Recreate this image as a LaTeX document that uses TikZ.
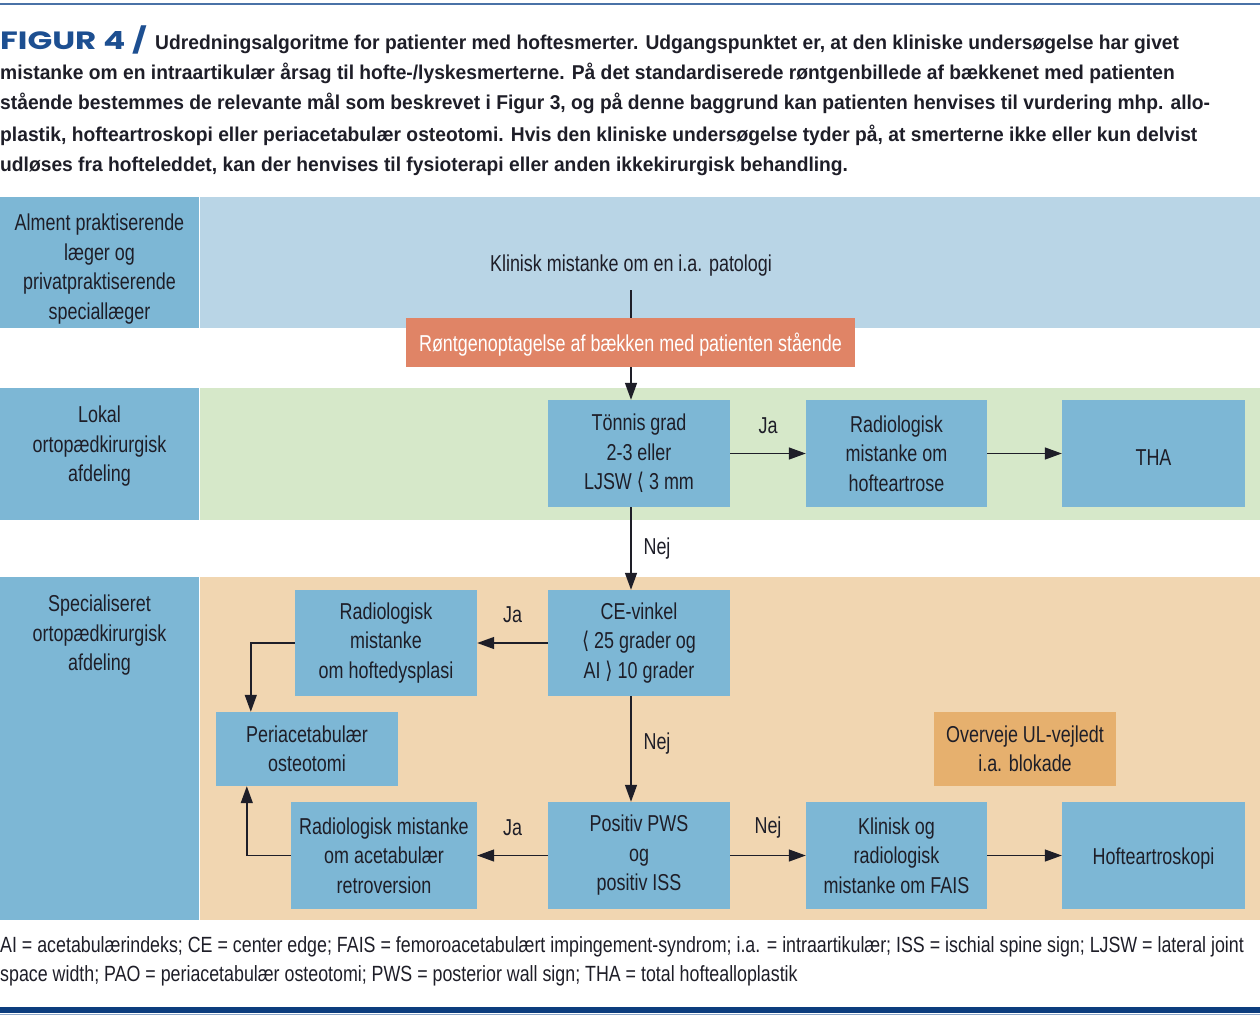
\documentclass[tikz,border=0pt]{standalone}
\usepackage{fontspec}
\usetikzlibrary{arrows.meta,calc}
\newfontfamily\condf[FakeStretch=0.78]{Liberation Sans}
\newfontfamily\footf[FakeStretch=0.81]{Liberation Sans}
\newfontfamily\capf[FakeStretch=0.962]{Liberation Sans}
\newfontfamily\headf[FakeStretch=1.3]{Poppins}
\newfontfamily\brf[FakeStretch=0.8]{DejaVu Sans}
\definecolor{boxblue}{HTML}{7DB7D5}
\definecolor{bandA}{HTML}{B9D5E6}
\definecolor{bandB}{HTML}{D6E8C9}
\definecolor{bandC}{HTML}{F1D6B1}
\definecolor{orangeA}{HTML}{E08466}
\definecolor{orangeB}{HTML}{E6B06E}
\definecolor{txt}{HTML}{1E1E28}
\definecolor{navy}{HTML}{0C3D7E}
\definecolor{headblue}{HTML}{1D4F91}
\newcommand{\difont}{\condf\fontsize{23}{29.5}\selectfont}
\newcommand{\capfont}{\capf\bfseries\fontsize{20}{30}\selectfont}
\newcommand{\footfont}{\footf\fontsize{22}{29}\selectfont}
\newcommand{\lbr}{{\brf ⟨}}
\newcommand{\rbr}{{\brf ⟩}}
\begin{document}
\begin{tikzpicture}[x=1pt,y=-1pt,
  proc/.style={fill=boxblue, minimum width=182pt, minimum height=107pt, inner sep=0pt, align=center, font=\difont, text=txt, execute at begin node={\rule{0pt}{23pt}}},
  lab/.style={align=center, font=\difont, text=txt, anchor=north, inner sep=0pt},
  arr/.style={-{Triangle[length=17pt,width=12pt]}, line width=1.4pt, draw=txt},
  plain/.style={line width=1.4pt, draw=txt},
  lbl/.style={font=\difont, text=txt, inner sep=0pt},
  capline/.style={anchor=base west, inner sep=0pt, font=\capfont, text=txt},
  footline/.style={anchor=base west, inner sep=0pt, font=\footfont, text=txt}]
\useasboundingbox (0,0) rectangle (1260,1022);
\fill[white] (0,0) rectangle (1260,1022);
% top and bottom rules
\draw[line width=1.2pt, draw=headblue!80] (0,4) -- (1260,4);
\fill[navy] (0,1007) rectangle (1260,1013);
\draw[line width=0.8pt, draw=headblue!50] (0,1014) -- (1260,1014);
% caption
\node[anchor=base west, inner sep=0pt, font=\headf\bfseries\fontsize{25}{30}\selectfont, text=headblue] (fig) at (0,50) {FIGUR 4 /};
\node[capline] (c1) at (155,50) {Udredningsalgoritme for patienter med hoftesmerter. Udgangspunktet er, at den kliniske undersøgelse har givet};
\node[capline] (c2) at (0,80) {mistanke om en intraartikulær årsag til hofte-/lyskesmerterne. På det standardiserede røntgenbillede af bækkenet med patienten};
\node[capline] (c3) at (0,110) {stående bestemmes de relevante mål som beskrevet i Figur 3, og på denne baggrund kan patienten henvises til vurdering mhp. allo-};
\node[capline] (c4) at (0,141) {plastik, hofteartroskopi eller periacetabulær osteotomi. Hvis den kliniske undersøgelse tyder på, at smerterne ikke eller kun delvist};
\node[capline] (c5) at (0,171) {udløses fra hofteleddet, kan der henvises til fysioterapi eller anden ikkekirurgisk behandling.};
% bands
\fill[bandA] (200,197) rectangle (1260,328);
\fill[boxblue] (0,197) rectangle (199,328);
\fill[bandB] (200,388) rectangle (1260,520);
\fill[boxblue] (0,388) rectangle (199,520);
\fill[bandC] (200,577) rectangle (1260,920);
\fill[boxblue] (0,577) rectangle (199,920);
\node[lab] (l1) at (99.5,214) {Alment praktiserende\\læger og\\privatpraktiserende\\speciallæger};
\node[lab] (l2) at (99.5,406) {Lokal\\ortopædkirurgisk\\afdeling};
\node[lab] (l3) at (99.5,595) {Specialiseret\\ortopædkirurgisk\\afdeling};
% nodes
\node[lbl, minimum height=48pt] (klin) at (631,266) {Klinisk mistanke om en i.a. patologi};
\node[proc, fill=orangeA, text=white, minimum width=449pt, minimum height=49pt] (ront) at (630.5,342.5) {Røntgenoptagelse af bækken med patienten stående};
\node[proc] (tonnis) at (639,453.5) {Tönnis grad\\2-3 eller\\LJSW \lbr{} 3 mm};
\node[proc, minimum width=181pt] (radart) at (896.5,453.5) {Radiologisk\\mistanke om\\hofteartrose};
\node[proc, minimum width=183pt] (tha) at (1153.5,453.5) {THA};
\node[proc, minimum height=106pt] (ce) at (639,643) {CE-vinkel\\\lbr{} 25 grader og\\AI \rbr{} 10 grader};
\node[proc, minimum height=106pt] (dysp) at (386,643) {Radiologisk\\mistanke\\om hoftedysplasi};
\node[proc, minimum height=74pt] (pao) at (307,749) {Periacetabulær\\osteotomi};
\node[proc, minimum height=74pt, fill=orangeB] (ul) at (1025,749) {Overveje UL-vejledt\\i.a. blokade};
\node[proc] (pws) at (639,855.5) {Positiv PWS\\og\\positiv ISS};
\node[proc, minimum width=186pt] (retro) at (384,855.5) {Radiologisk mistanke\\om acetabulær\\retroversion};
\node[proc, minimum width=181pt] (fais) at (896.5,855.5) {Klinisk og\\radiologisk\\mistanke om FAIS};
\node[proc, minimum width=183pt] (hart) at (1153.5,855.5) {Hofteartroskopi};
% connectors
\draw[plain] (klin.south) -- (ront.north -| klin.south);
\draw[arr] (ront.south -| klin.south) -- (tonnis.north -| klin.south);
\draw[arr] (tonnis.east) -- node[lbl, midway, yshift=28pt] (ja1) {Ja} (radart.west);
\draw[arr] (radart.east) -- (tha.west);
\draw[arr] (tonnis.south -| klin.south) -- node[lbl, midway, xshift=26pt] (nej1) {Nej} (ce.north -| klin.south);
\draw[arr] (ce.west) -- node[lbl, midway, yshift=28pt] (ja2) {Ja} (dysp.east);
\draw[arr] (dysp.west) -| ($(pao.north west)+(35,0)$);
\draw[arr] (ce.south -| klin.south) -- node[lbl, midway, xshift=26pt, yshift=5pt] (nej2) {Nej} (pws.north -| klin.south);
\draw[arr] (pws.west) -- node[lbl, midway, yshift=28pt] (ja3) {Ja} (retro.east);
\draw[arr] (retro.west) -| ($(pao.south west)+(31,0)$);
\draw[arr] (pws.east) -- node[lbl, midway, yshift=28pt] (nej3) {Nej} (fais.west);
\draw[arr] (fais.east) -- (hart.west);
% footer
\node[footline] (f1) at (0,952) {AI = acetabulærindeks; CE = center edge; FAIS = femoroacetabulært impingement-syndrom; i.a. = intraartikulær; ISS = ischial spine sign; LJSW = lateral joint};
\node[footline] (f2) at (0,981) {space width; PAO = periacetabulær osteotomi; PWS = posterior wall sign; THA = total hoftealloplastik};
\end{tikzpicture}
\end{document}
